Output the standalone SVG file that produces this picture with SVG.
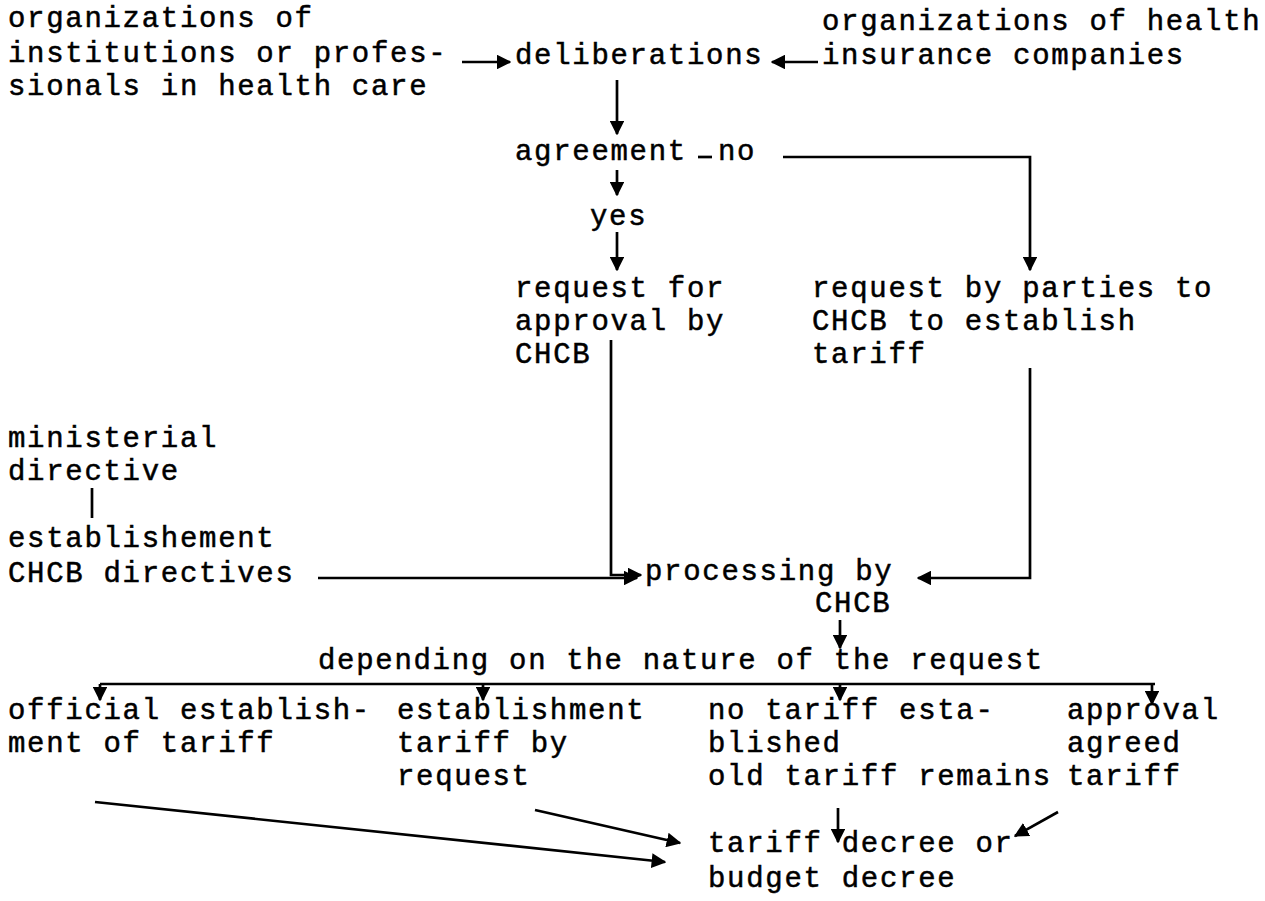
<svg xmlns="http://www.w3.org/2000/svg" width="1265" height="901" viewBox="0 0 1265 901">
<defs>
<style>
text{font-family:"Liberation Mono","Courier New",monospace;font-size:29px;letter-spacing:1.7px;fill:#000;stroke:#000;stroke-width:0.5}
.c line,.c polyline{stroke:#000;stroke-width:2.7;fill:none}
</style>
<marker id="ah" viewBox="0 0 10 10" refX="9" refY="5" markerWidth="5.5" markerHeight="5.5" markerUnits="strokeWidth" orient="auto">
<path d="M0,0 L10,5 L0,10 z" fill="#000"/>
</marker>
</defs>
<rect width="1265" height="901" fill="#fff"/>
<g id="n-institutions"><text x="8" y="27">organizations of</text><text x="8" y="62">institutions or profes-</text><text x="8" y="95">sionals in health care</text></g>
<g id="n-insurance"><text x="822" y="30">organizations of health</text><text x="822" y="64">insurance companies</text></g>
<g id="n-deliberations"><text x="515" y="64">deliberations</text></g>
<g id="n-agreement"><text x="515" y="160">agreement</text></g>
<g id="n-no"><text x="718" y="160">no</text></g>
<g id="n-yes"><text x="590" y="225">yes</text></g>
<g id="n-request-approval"><text x="515" y="297">request for</text><text x="515" y="330">approval by</text><text x="515" y="363">CHCB</text></g>
<g id="n-request-parties"><text x="812" y="297">request by parties to</text><text x="812" y="330">CHCB to establish</text><text x="812" y="363">tariff</text></g>
<g id="n-ministerial"><text x="8" y="447">ministerial</text><text x="8" y="480">directive</text></g>
<g id="n-establishement"><text x="8" y="547">establishement</text><text x="8" y="582">CHCB directives</text></g>
<g id="n-processing"><text x="645" y="580">processing by</text><text x="815" y="612">CHCB</text></g>
<g id="n-depending"><text x="318" y="669">depending on the nature of the request</text></g>
<g id="n-official"><text x="8" y="719">official establish-</text><text x="8" y="752">ment of tariff</text></g>
<g id="n-establishment-request"><text x="397" y="719">establishment</text><text x="397" y="752">tariff by</text><text x="397" y="785">request</text></g>
<g id="n-no-tariff"><text x="708" y="719">no tariff esta-</text><text x="708" y="752">blished</text><text x="708" y="785">old tariff remains</text></g>
<g id="n-approval"><text x="1067" y="719">approval</text><text x="1067" y="752">agreed</text><text x="1067" y="785">tariff</text></g>
<g id="n-decree"><text x="708" y="852">tariff decree or</text><text x="708" y="887">budget decree</text></g>
<g id="connectors" class="c">
<line x1="462" y1="62" x2="510" y2="62" marker-end="url(#ah)"/>
<line x1="818" y1="62" x2="772" y2="62" marker-end="url(#ah)"/>
<line x1="617" y1="80" x2="617" y2="134" marker-end="url(#ah)"/>
<line x1="698" y1="157" x2="712" y2="157"/>
<polyline points="783,157 1030,157 1030,270" marker-end="url(#ah)"/>
<line x1="617" y1="170" x2="617" y2="195" marker-end="url(#ah)"/>
<line x1="617" y1="232" x2="617" y2="270" marker-end="url(#ah)"/>
<polyline points="611,340 611,575 641,575" marker-end="url(#ah)"/>
<polyline points="1030,368 1030,578 918,578" marker-end="url(#ah)"/>
<line x1="92" y1="488" x2="92" y2="518"/>
<line x1="318" y1="578" x2="637" y2="578" marker-end="url(#ah)"/>
<line x1="840" y1="620" x2="840" y2="648" marker-end="url(#ah)"/>
<line x1="100" y1="684" x2="1155" y2="684"/>
<line x1="100" y1="684" x2="100" y2="700" marker-end="url(#ah)"/>
<line x1="483" y1="684" x2="483" y2="700" marker-end="url(#ah)"/>
<line x1="840" y1="684" x2="840" y2="700" marker-end="url(#ah)"/>
<line x1="1152" y1="684" x2="1152" y2="704" marker-end="url(#ah)"/>
<line x1="95" y1="802" x2="665" y2="862" marker-end="url(#ah)"/>
<line x1="535" y1="810" x2="680" y2="843" marker-end="url(#ah)"/>
<line x1="838" y1="808" x2="838" y2="842" marker-end="url(#ah)"/>
<line x1="1058" y1="812" x2="1015" y2="836" marker-end="url(#ah)"/>
</g>
</svg>
